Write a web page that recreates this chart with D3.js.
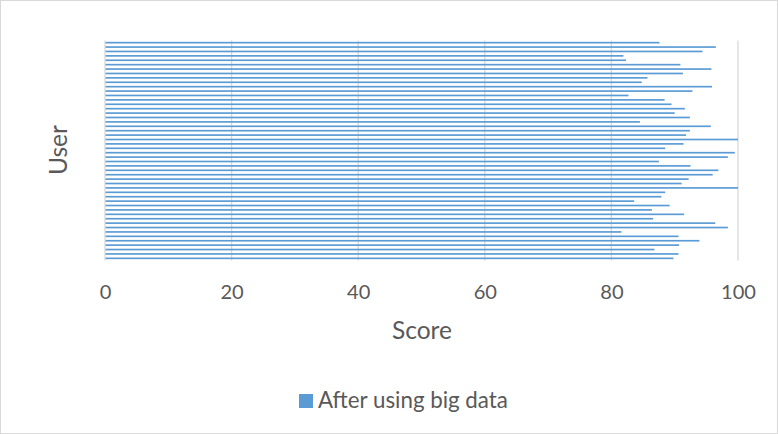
<!DOCTYPE html>
<html><head><meta charset="utf-8">
<script src="https://cdn.jsdelivr.net/npm/d3@7/dist/d3.min.js"></script>
<style>body{margin:0;background:#fff}svg{display:block}</style>
</head><body>
<script>
// Values listed from the top bar to the bottom bar (user 50 at top, user 1 at bottom)
const scoresTopDown = [87.6,96.5,94.4,81.9,82.3,90.9,95.8,91.3,85.7,84.8,
  95.9,92.8,82.7,88.4,89.5,91.6,90.0,92.4,84.5,95.7,
  92.4,91.8,100.0,91.4,88.5,99.5,98.4,87.5,92.5,96.9,
  96.0,92.2,91.1,100.0,88.5,87.9,83.6,89.2,86.4,91.5,
  86.6,96.4,98.4,81.6,90.6,93.9,90.7,86.8,90.6,89.8];
const users = d3.range(1, 51);
const scores = scoresTopDown.slice().reverse(); // scores[i] belongs to users[i]
const xTicks = [0,20,40,60,80,100];
const seriesName = "After using big data";

const W = 778, H = 434;
const pLeft = 105, pRight = 738, pTop = 40.5, pBottom = 260.5;
const barColor = "#5B9BD5";
const textColor = "#595959";
const font = "Lato, 'Open Sans', sans-serif";

const svg = d3.select("body").append("svg").attr("width", W).attr("height", H);
svg.append("rect").attr("x",0.5).attr("y",0.5).attr("width",W-1).attr("height",H-1)
  .attr("fill","#fff").attr("stroke","#d9d9d9");

// scale a text's font size so it spans the given width
function fitSize(sel, target){
  sel.style("font-size","20px");
  const w = sel.node().getComputedTextLength();
  const s = 20*target/w;
  sel.style("font-size", s+"px");
  return s;
}

const x = d3.scaleLinear().domain([0,100]).range([pLeft,pRight]);
const y = d3.scaleBand().domain(users.slice().reverse()).range([pTop,pBottom]).paddingInner(0.62).paddingOuter(0.3);

// gridlines
svg.append("g").selectAll("line").data(xTicks.filter(d=>d>0)).join("line")
  .attr("x1",d=>x(d)).attr("x2",d=>x(d)).attr("y1",pTop).attr("y2",pBottom)
  .attr("stroke","#d9d9d9").attr("stroke-width",1.3);

// bars
svg.append("g").selectAll("rect").data(users).join("rect")
  .attr("x",x(0)).attr("y",d=>y(d)).attr("height",y.bandwidth())
  .attr("width",(d,i)=>x(scores[i])-x(0)).attr("fill",barColor);

// category axis line
svg.append("line").attr("x1",x(0)).attr("x2",x(0)).attr("y1",pTop).attr("y2",pBottom)
  .attr("stroke","#d9d9d9").attr("stroke-width",1.3);

// x tick labels via axis
const xAxis = svg.append("g").attr("transform",`translate(0,${pBottom})`)
  .call(d3.axisBottom(x).tickValues(xTicks).tickSize(0).tickPadding(0));
xAxis.select(".domain").remove();
const tickTexts = xAxis.selectAll("text").attr("fill",textColor).style("font-family",font)
  .attr("dy",null).attr("y",38.5);
const s100 = fitSize(xAxis.selectAll("text").filter(d=>d===100), 35);
tickTexts.style("font-size", s100+"px");

const scoreT = svg.append("text").attr("x",422).attr("y",339).attr("text-anchor","middle")
  .attr("fill",textColor).style("font-family",font).text("Score");
fitSize(scoreT, 60);

const userT = svg.append("text").attr("transform",`translate(67,150) rotate(-90)`)
  .attr("text-anchor","middle").attr("fill",textColor).style("font-family",font).text("User");
fitSize(userT, 50);

// legend
svg.append("rect").attr("x",299).attr("y",394).attr("width",14).attr("height",14).attr("fill",barColor);
const legT = svg.append("text").attr("x",318).attr("y",408).attr("fill",textColor)
  .style("font-family",font).text(seriesName);
fitSize(legT, 190);
</script>
</body></html>
